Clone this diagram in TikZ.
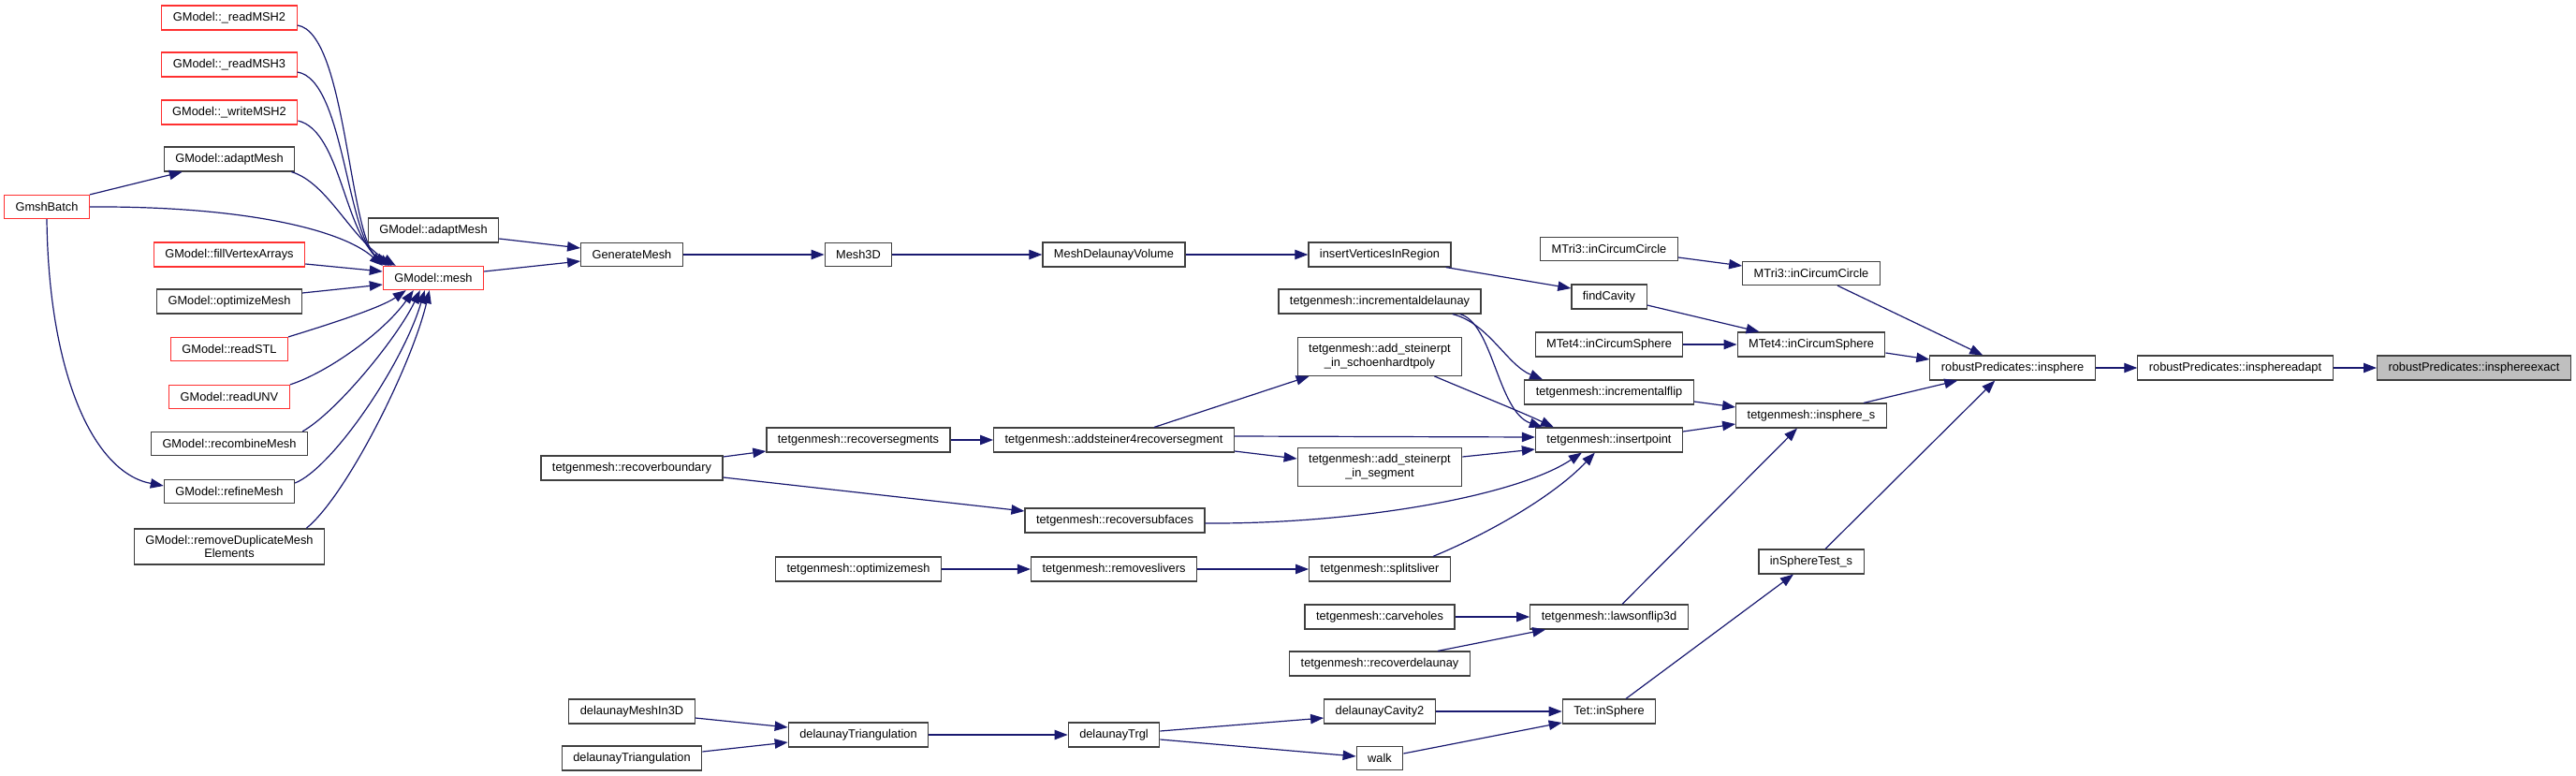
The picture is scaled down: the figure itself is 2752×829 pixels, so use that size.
\documentclass[tikz,border=0pt]{standalone}
\usepackage{fontspec}
\setmainfont{Liberation Sans}
\usepackage{xcolor}
\usepackage{tikz}
\usetikzlibrary{arrows.meta, calc}
\definecolor{edgeblue}{HTML}{191970}
\definecolor{truncred}{HTML}{FF3030}
\definecolor{rootgray}{HTML}{BFBFBF}
\definecolor{boxline}{HTML}{404040}

\begin{document}
\begin{tikzpicture}[
  x=0.5pt, y=-0.5pt,
  fn/.style={rectangle, draw=boxline, fill=white, line width=0.6pt, inner xsep=6pt, inner ysep=3.5pt, minimum height=12.5pt, align=center, font=\fontsize{6.4}{7.35}\selectfont},
  trunc/.style={fn, draw=truncred},
  root/.style={fn, fill=rootgray},
  call/.style={draw=edgeblue, line width=0.6pt, -{Triangle[length=7pt, width=5.2pt]}}
]
\useasboundingbox (0,0) rectangle (2752,829);

\node[trunc] (gmsh) at (50,221) {GmshBatch};

\node[trunc] (rmsh2) at (245,19) {GModel::\_readMSH2};
\node[trunc] (rmsh3) at (245,69) {GModel::\_readMSH3};
\node[trunc] (wmsh2) at (245,120) {GModel::\_writeMSH2};
\node[fn] (adapt) at (245,170) {GModel::adaptMesh};
\node[trunc] (fillva) at (245,272) {GModel::fillVertexArrays};
\node[fn] (optim) at (245,322) {GModel::optimizeMesh};
\node[trunc] (rstl) at (245,373) {GModel::readSTL};
\node[trunc] (runv) at (245,424) {GModel::readUNV};
\node[fn] (recomb) at (245,474) {GModel::recombineMesh};
\node[fn] (refine) at (245,525) {GModel::refineMesh};
\node[fn] (rmdup) at (245,584) {GModel::removeDuplicateMesh\\Elements};

\node[fn] (adapt2) at (463,246) {GModel::adaptMesh};
\node[trunc] (mesh) at (463,297) {GModel::mesh};

\node[fn] (genmesh) at (675,272) {GenerateMesh};
\node[fn] (recbnd) at (675,500) {tetgenmesh::recoverboundary};
\node[fn] (dmesh3d) at (675,760) {delaunayMeshIn3D};
\node[fn] (dtri1) at (675,810) {delaunayTriangulation};

\node[fn] (mesh3d) at (917,272) {Mesh3D};
\node[fn] (recseg) at (917,470) {tetgenmesh::recoversegments};
\node[fn] (optmesh) at (917,608) {tetgenmesh::optimizemesh};
\node[fn] (dtri2) at (917,785) {delaunayTriangulation};

\node[fn] (mdv) at (1190,272) {MeshDelaunayVolume};
\node[fn] (addst) at (1190,470) {tetgenmesh::addsteiner4recoversegment};
\node[fn] (recsub) at (1191,556) {tetgenmesh::recoversubfaces};
\node[fn] (remsl) at (1190,608) {tetgenmesh::removeslivers};
\node[fn] (dtrgl) at (1190,785) {delaunayTrgl};

\node[fn] (ivr) at (1474,272) {insertVerticesInRegion};
\node[fn] (incdel) at (1474,322) {tetgenmesh::incrementaldelaunay};
\node[fn] (schoen) at (1474,381) {tetgenmesh::add\_steinerpt\\\_in\_schoenhardtpoly};
\node[fn] (steinseg) at (1474,499) {tetgenmesh::add\_steinerpt\\\_in\_segment};
\node[fn] (splits) at (1474,608) {tetgenmesh::splitsliver};
\node[fn] (carve) at (1474,659) {tetgenmesh::carveholes};
\node[fn] (recdel) at (1474,709) {tetgenmesh::recoverdelaunay};
\node[fn] (dcav2) at (1474,760) {delaunayCavity2};
\node[fn] (walk) at (1474,810) {walk};

\node[fn] (mtri3a) at (1719,266) {MTri3::inCircumCircle};
\node[fn] (findcav) at (1719,317) {findCavity};
\node[fn] (mtet4a) at (1719,368) {MTet4::inCircumSphere};
\node[fn] (incflip) at (1719,419) {tetgenmesh::incrementalflip};
\node[fn] (inspt) at (1719,470) {tetgenmesh::insertpoint};
\node[fn] (lawson) at (1719,659) {tetgenmesh::lawsonflip3d};
\node[fn] (tetins) at (1719,760) {Tet::inSphere};

\node[fn] (mtri3b) at (1935,292) {MTri3::inCircumCircle};
\node[fn] (mtet4b) at (1935,368) {MTet4::inCircumSphere};
\node[fn] (inss) at (1935,444) {tetgenmesh::insphere\_s};
\node[fn] (istest) at (1935,600) {inSphereTest\_s};

\node[fn] (insph) at (2150,393) {robustPredicates::insphere};
\node[fn] (inadapt) at (2388,393) {robustPredicates::insphereadapt};
\node[root] (inexact) at (2643,393) {robustPredicates::insphereexact};

\draw[call] (gmsh.north east) -- ($(adapt.south west)+(20,0)$);
\draw[call] (gmsh.east) .. controls (260,220) and (365,245) .. (mesh.north west);
\draw[call] (gmsh.south) .. controls (52,400) and (100,505) .. ($(refine.west)+(0,-6)$);
\draw[call] ($(rmsh2.east)+(0,8)$) .. controls (370,35) and (372,250) .. ($(mesh.north west)+(4,0)$);
\draw[call] ($(rmsh3.east)+(0,8)$) .. controls (368,85) and (370,255) .. ($(mesh.north west)+(7,0)$);
\draw[call] ($(wmsh2.east)+(0,9)$) .. controls (365,140) and (368,255) .. ($(mesh.north west)+(10,0)$);
\draw[call] ($(adapt.south east)+(-4,0)$) .. controls (350,195) and (375,255) .. ($(mesh.north west)+(14,0)$);
\draw[call] ($(fillva.east)+(0,10)$) -- ($(mesh.west)+(0,-7)$);
\draw[call] ($(optim.east)+(0,-9)$) -- ($(mesh.west)+(0,7)$);
\draw[call] (rstl.north east) .. controls (340,350) and (405,330) .. ($(mesh.south west)+(25,0)$);
\draw[call] (runv.north east) .. controls (350,398) and (410,355) .. ($(mesh.south west)+(33,0)$);
\draw[call] ($(recomb.north east)+(-6,0)$) .. controls (360,440) and (425,360) .. ($(mesh.south west)+(40,0)$);
\draw[call] ($(refine.east)+(0,-9)$) .. controls (355,500) and (430,390) .. ($(mesh.south west)+(45,0)$);
\draw[call] ($(rmdup.north east)+(-20,0)$) .. controls (370,530) and (440,390) .. ($(mesh.south west)+(50,0)$);

\draw[call] ($(adapt2.east)+(0,9)$) -- ($(genmesh.west)+(0,-7)$);
\draw[call] ($(mesh.east)+(0,-7)$) -- ($(genmesh.west)+(0,7)$);
\draw[call] (genmesh) -- (mesh3d);
\draw[call] (mesh3d) -- (mdv);
\draw[call] (mdv) -- (ivr);
\draw[call] ($(ivr.south east)+(-6,0)$) -- ($(findcav.west)+(0,-9)$);
\draw[call] ($(findcav.east)+(0,9)$) -- ($(mtet4b.north west)+(24,0)$);
\draw[call] ($(mtri3a.east)+(0,9)$) -- ($(mtri3b.west)+(0,-8)$);
\draw[call] (mtet4a) -- (mtet4b);
\draw[call] ($(mtri3b.south)+(28,0)$) -- ($(insph.north west)+(57,0)$);
\draw[call] ($(mtet4b.east)+(0,9)$) -- ($(insph.west)+(0,-9)$);
\draw[call] ($(inss.north east)+(-25,0)$) -- ($(insph.south west)+(30,0)$);
\draw[call] ($(istest.north)+(15,0)$) -- ($(insph.south west)+(70,0)$);
\draw[call] (insph) -- (inadapt);
\draw[call] (inadapt) -- (inexact);

\draw[call] ($(incdel.south east)+(-31,0)$) .. controls (1590,345) and (1610,390) .. ($(incflip.north west)+(20,0)$);
\draw[call] ($(incdel.south east)+(-23,0)$) .. controls (1595,345) and (1600,440) .. ($(inspt.north west)+(8,0)$);
\draw[call] ($(incflip.east)+(0,10)$) -- ($(inss.west)+(0,-9)$);
\draw[call] ($(inspt.east)+(0,-9)$) -- ($(inss.west)+(0,9)$);
\draw[call] ($(lawson.north)+(14,0)$) -- ($(inss.south)+(-15,0)$);
\draw[call] ($(tetins.north)+(18,0)$) -- ($(istest.south)+(-19,0)$);

\draw[call] ($(recbnd.east)+(0,-12)$) -- ($(recseg.west)+(0,12)$);
\draw[call] ($(recbnd.east)+(0,10)$) -- ($(recsub.west)+(0,-10)$);
\draw[call] (recseg) -- (addst);
\draw[call] ($(addst.north)+(43,0)$) -- ($(schoen.south west)+(13,0)$);
\draw[call] ($(addst.east)+(0,-4)$) -- ($(inspt.west)+(0,-3)$);
\draw[call] ($(addst.east)+(0,12)$) -- ($(steinseg.west)+(0,-9)$);
\draw[call] ($(schoen.south east)+(-30,0)$) .. controls (1575,420) and (1625,440) .. ($(inspt.north west)+(20,0)$);
\draw[call] ($(steinseg.east)+(0,-11)$) -- ($(inspt.west)+(0,10)$);
\draw[call] ($(recsub.east)+(0,3)$) .. controls (1450,560) and (1620,530) .. ($(inspt.south west)+(50,0)$);
\draw[call] ($(splits.north east)+(-19,0)$) .. controls (1590,570) and (1660,530) .. ($(inspt.south west)+(64,0)$);
\draw[call] (optmesh) -- (remsl);
\draw[call] (remsl) -- (splits);
\draw[call] (carve) -- (lawson);
\draw[call] ($(recdel.north)+(62,0)$) -- ($(lawson.south west)+(17,0)$);

\draw[call] ($(dmesh3d.east)+(0,7)$) -- ($(dtri2.west)+(0,-8)$);
\draw[call] ($(dtri1.east)+(0,-7)$) -- ($(dtri2.west)+(0,8)$);
\draw[call] (dtri2) -- (dtrgl);
\draw[call] ($(dtrgl.east)+(0,-4)$) -- ($(dcav2.west)+(0,7)$);
\draw[call] ($(dtrgl.east)+(0,5)$) -- ($(walk.west)+(0,-2)$);
\draw[call] (dcav2) -- (tetins);
\draw[call] ($(walk.east)+(0,-5)$) -- ($(tetins.west)+(0,12)$);
\end{tikzpicture}
\end{document}
